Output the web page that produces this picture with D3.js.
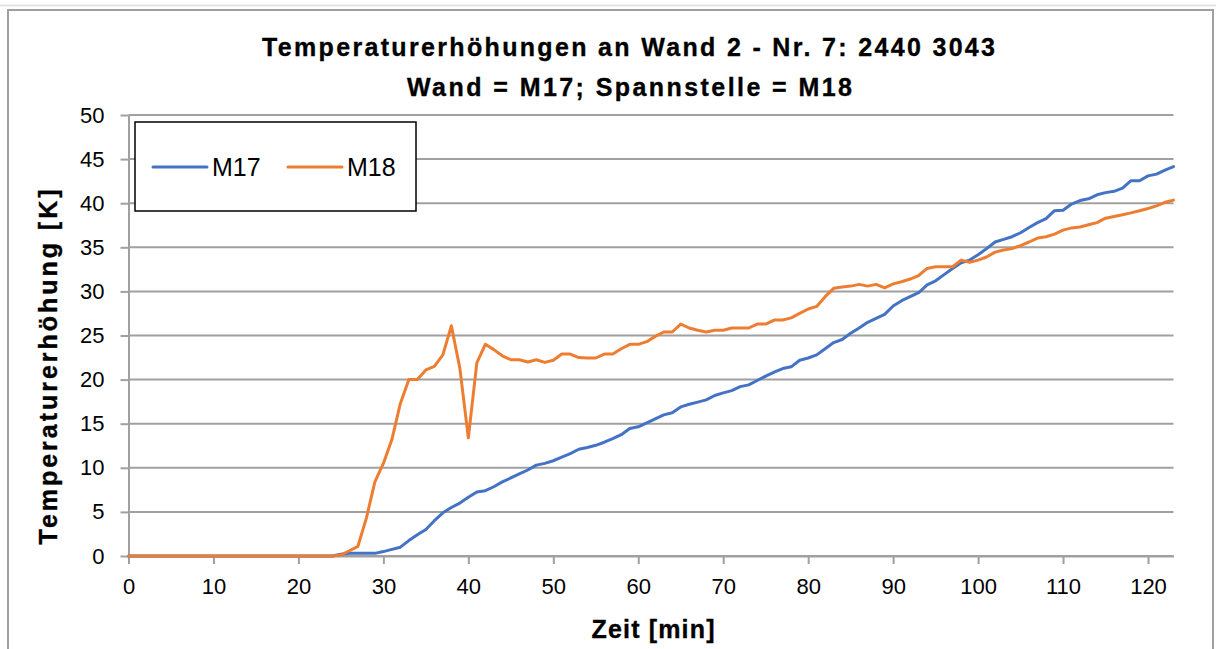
<!DOCTYPE html>
<html>
<head>
<meta charset="utf-8">
<script src="https://cdn.jsdelivr.net/npm/d3@7"></script>
<style>
  html, body { margin: 0; padding: 0; background: #fff; }
  svg { display: block; font-family: "Liberation Sans", Arial, sans-serif; }
</style>
</head>
<body>
<svg id="chart" width="1216" height="649"></svg>
<script>
// ---- Data ----
const titleLines = ["Temperaturerhöhungen an Wand 2 - Nr. 7: 2440 3043", "Wand = M17; Spannstelle = M18"];
const xLabel = "Zeit [min]";
const yLabel = "Temperaturerhöhung [K]";
const seriesNames = ["M17", "M18"];
const seriesColors = ["#4472C4", "#ED7D31"];
const xTicks = [0, 10, 20, 30, 40, 50, 60, 70, 80, 90, 100, 110, 120];
const yTicks = [0, 5, 10, 15, 20, 25, 30, 35, 40, 45, 50];

// time in minutes, 0..123
const time = d3.range(0, 124);

const m17 = [
  0,0,0,0,0,0,0,0,0,0,            // 0-9
  0,0,0,0,0,0,0,0,0,0,            // 10-19
  0,0,0,0,0,0.2,0.3,0.3,0.3,0.3,  // 20-29
  0.5,0.75,1.0,1.75,2.4,3.0,4.0,4.9,5.5,6.0,      // 30-39
  6.65,7.25,7.4,7.85,8.4,8.85,9.3,9.75,10.3,10.5, // 40-49
  10.8,11.2,11.6,12.1,12.3,12.55,12.9,13.3,13.75,14.45, // 50-59
  14.65,15.1,15.55,16.0,16.25,16.9,17.2,17.45,17.7,18.2, // 60-69
  18.5,18.75,19.2,19.4,19.9,20.4,20.85,21.25,21.45,22.2, // 70-79
  22.45,22.8,23.5,24.2,24.55,25.25,25.85,26.5,26.95,27.4, // 80-89
  28.35,28.95,29.4,29.85,30.75,31.2,31.9,32.6,33.25,33.55, // 90-99
  34.15,34.85,35.6,35.9,36.2,36.65,37.25,37.8,38.25,39.15, // 100-109
  39.2,39.9,40.3,40.5,40.95,41.2,41.35,41.7,42.55,42.55,   // 110-119
  43.1,43.3,43.75,44.15                                   // 120-123
];

const m18 = [
  0,0,0,0,0,0,0,0,0,0,            // 0-9
  0,0,0,0,0,0,0,0,0,0,            // 10-19
  0,0,0,0,0,0.1,0.6,1.1,4.3,8.4,  // 20-29
  10.5,13.2,17.3,20.0,20.0,21.1,21.5,22.8,26.1,21.3,  // 30-39
  13.4,21.9,24.0,23.4,22.7,22.25,22.25,22.0,22.25,21.95, // 40-49
  22.2,22.9,22.9,22.5,22.45,22.45,22.9,22.9,23.5,24.0,  // 50-59
  24.0,24.3,24.9,25.4,25.4,26.3,25.85,25.6,25.4,25.6,   // 60-69
  25.6,25.85,25.85,25.85,26.3,26.3,26.75,26.75,27.0,27.5, // 70-79
  28.0,28.3,29.4,30.35,30.5,30.6,30.8,30.6,30.8,30.4,    // 80-89
  30.85,31.1,31.4,31.8,32.6,32.8,32.8,32.8,33.55,33.3,   // 90-99
  33.55,33.9,34.45,34.7,34.85,35.2,35.6,36.05,36.2,36.5, // 100-109
  36.95,37.2,37.3,37.55,37.8,38.3,38.5,38.7,38.9,39.15,  // 110-119
  39.4,39.7,40.1,40.35                                  // 120-123
];

const seriesValues = [m17, m18];

// ---- Layout ----
const svg = d3.select("#chart");
const plot = { left: 128.5, right: 1173.5, top: 115, bottom: 556 };
const x = d3.scaleLinear().domain([0, 123]).range([plot.left, plot.right]);
const y = d3.scaleLinear().domain([0, 50]).range([plot.bottom, plot.top]);

const gridColor = "#a0a0a0";

// faint line at very top
svg.append("line").attr("x1", 0).attr("x2", 1216).attr("y1", 5.5).attr("y2", 5.5)
  .attr("stroke", "#e4e4e4").attr("stroke-width", 2);

// outer chart frame
svg.append("rect").attr("x", 8).attr("y", 10).attr("width", 1205).attr("height", 660)
  .attr("fill", "#fff").attr("stroke", "#a0a0a0").attr("stroke-width", 2);

// horizontal gridlines
svg.append("g").selectAll("line").data(yTicks).join("line")
  .attr("x1", plot.left).attr("x2", plot.right)
  .attr("y1", d => y(d)).attr("y2", d => y(d))
  .attr("stroke", gridColor).attr("stroke-width", 2);

// y axis
const yAxis = svg.append("g").attr("transform", `translate(${plot.left},0)`)
  .call(d3.axisLeft(y).tickValues(yTicks).tickSize(8).tickPadding(16).tickSizeOuter(0));
yAxis.select(".domain").attr("stroke", gridColor).attr("stroke-width", 2);
yAxis.selectAll(".tick line").attr("stroke", gridColor).attr("stroke-width", 2);
yAxis.selectAll(".tick text").attr("font-size", 22).attr("fill", "#000")
  .attr("font-family", "Liberation Sans, Arial, sans-serif");

// x axis
const xAxis = svg.append("g").attr("transform", `translate(0,${plot.bottom})`)
  .call(d3.axisBottom(x).tickValues(xTicks).tickSize(8).tickPadding(14).tickSizeOuter(0));
xAxis.select(".domain").attr("stroke", gridColor).attr("stroke-width", 2);
xAxis.selectAll(".tick line").attr("stroke", gridColor).attr("stroke-width", 2);
xAxis.selectAll(".tick text").attr("font-size", 22).attr("fill", "#000")
  .attr("font-family", "Liberation Sans, Arial, sans-serif");

// lines
const lineGen = d3.line().x((d, i) => x(time[i])).y(d => y(d));
seriesValues.forEach((vals, k) => {
  svg.append("path").datum(vals)
    .attr("fill", "none")
    .attr("stroke", seriesColors[k])
    .attr("stroke-width", 3)
    .attr("stroke-linejoin", "round")
    .attr("stroke-linecap", "round")
    .attr("d", lineGen);
});

// bold texts: reference glyphs are letter-spaced; match measured widths
function boldText(sel) {
  return sel.attr("font-size", 25).attr("font-weight", "bold")
    .attr("fill", "#000").attr("stroke", "#000").attr("stroke-width", 0.35)
    .attr("lengthAdjust", "spacing");
}
boldText(svg.append("text")).attr("x", 628.5).attr("y", 56).attr("text-anchor", "middle")
  .attr("textLength", 733).text(titleLines[0]);
boldText(svg.append("text")).attr("x", 629.5).attr("y", 96).attr("text-anchor", "middle")
  .attr("textLength", 445).text(titleLines[1]);

// axis titles
boldText(svg.append("text")).attr("x", 653).attr("y", 638).attr("text-anchor", "middle")
  .attr("textLength", 123).text(xLabel);
boldText(svg.append("text")).attr("transform", "translate(57,367) rotate(-90)")
  .attr("text-anchor", "middle")
  .attr("textLength", 355).text(yLabel);

// legend
const lg = svg.append("g");
lg.append("rect").attr("x", 135).attr("y", 122).attr("width", 281).attr("height", 89)
  .attr("fill", "#fff").attr("stroke", "#000").attr("stroke-width", 1.5);
const legendX = [153, 288];
seriesNames.forEach((name, k) => {
  lg.append("line").attr("x1", legendX[k]).attr("x2", legendX[k] + 54)
    .attr("y1", 167).attr("y2", 167)
    .attr("stroke", seriesColors[k]).attr("stroke-width", 3).attr("stroke-linecap", "round");
  lg.append("text").attr("x", legendX[k] + 59).attr("y", 176)
    .attr("font-size", 25).attr("fill", "#000").text(name);
});
</script>
</body>
</html>
